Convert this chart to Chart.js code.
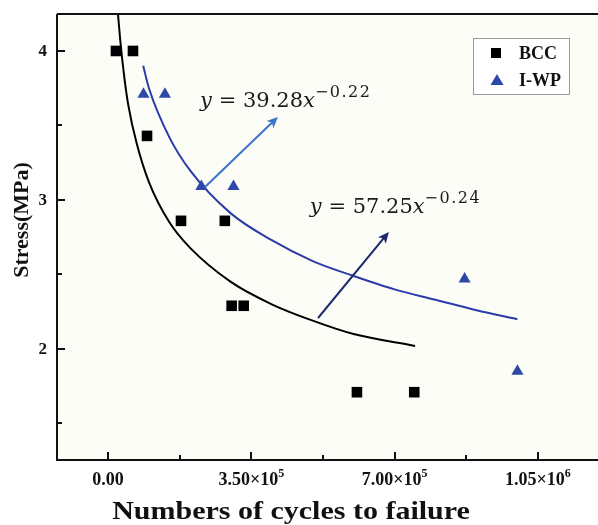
<!DOCTYPE html>
<html>
<head>
<meta charset="utf-8">
<script src="https://cdn.jsdelivr.net/npm/chart.js@4/dist/chart.umd.min.js"></script>
<style>
  html, body { margin: 0; padding: 0; background: #ffffff; overflow: hidden; }
  canvas { display: block; }
</style>
</head>
<body>
<canvas id="chart" width="598" height="525"></canvas>
<script>
// Fatigue test results: stress amplitude vs. cycles to failure
const bccCycles = [19500, 61000, 95300, 178300, 285300, 302000, 331500, 608000, 748000];
const bccStress = [4.00, 4.00, 3.43, 2.86, 2.86, 2.29, 2.29, 1.71, 1.71];
const iwpCycles = [86700, 139000, 228000, 306500, 871000, 1000000];
const iwpStress = [3.71, 3.71, 3.09, 3.09, 2.47, 1.85];

// Fitted S-N curves, sampled along each trend line
const bccFitCycles = [24000, 30000, 40000, 50000, 70000, 100000, 150000, 200000, 300000, 400000, 500000, 600000, 750000];
const bccFitStress = [4.26, 4.07, 3.82, 3.63, 3.38, 3.12, 2.85, 2.68, 2.45, 2.30, 2.19, 2.10, 2.02];
const iwpFitCycles = [86000, 100000, 150000, 200000, 300000, 400000, 500000, 600000, 700000, 800000, 900000, 1000000];
const iwpFitStress = [3.90, 3.75, 3.42, 3.20, 2.91, 2.73, 2.59, 2.49, 2.40, 2.33, 2.26, 2.20];

// Axis ticks
const xMajorTicks = [0, 350000, 700000, 1050000];
const xTickMantissa = ['0.00', '3.50', '7.00', '1.05'];
const xTickExponent = ['', '5', '5', '6'];
const xMinorTicks = [175000, 525000, 875000];
const yMajorTicks = [2, 3, 4];
const yTickLabels = ['2', '3', '4'];
const yMinorTicks = [1.5, 2.5, 3.5];

// Fit equations and their pointer arrows (data coordinates)
const eqCoefs = ['39.28', '57.25'];
const eqExps = ['\u22120.22', '\u22120.24'];
const eqAnchors = [[225000, 3.624], [493000, 2.913]];
const arrowStarts = [[237000, 3.087], [513000, 2.208]];
const arrowEnds = [[415000, 3.557], [686000, 2.785]];
const arrowColors = ['#3b74c9', '#1e2a6e'];

const SERIF = '"Liberation Serif", "Times New Roman", serif';
const MATH = '"DejaVu Serif", serif';

const toXY = (xs, ys) => xs.map((x, i) => ({ x: x, y: ys[i] }));

const framePlugin = {
  id: 'frame',
  beforeDraw(chart) {
    const { ctx, chartArea: a } = chart;
    ctx.save();
    ctx.fillStyle = '#fdfdf8';
    ctx.fillRect(a.left, a.top, a.right - a.left, a.bottom - a.top);
    ctx.restore();
  },
  afterDatasetsDraw(chart) {
    const { ctx, chartArea: a, scales } = chart;
    const xs = scales.x, ys = scales.y;
    ctx.save();

    // arrows
    arrowStarts.forEach((s, i) => {
      const x0 = xs.getPixelForValue(s[0]), y0 = ys.getPixelForValue(s[1]);
      const x1 = xs.getPixelForValue(arrowEnds[i][0]), y1 = ys.getPixelForValue(arrowEnds[i][1]);
      const ang = Math.atan2(y1 - y0, x1 - x0);
      const hl = 11, hw = 5;
      ctx.strokeStyle = arrowColors[i];
      ctx.fillStyle = arrowColors[i];
      ctx.lineWidth = 2;
      ctx.beginPath();
      ctx.moveTo(x0, y0);
      ctx.lineTo(x1 - Math.cos(ang) * hl * 0.7, y1 - Math.sin(ang) * hl * 0.7);
      ctx.stroke();
      ctx.beginPath();
      ctx.moveTo(x1, y1);
      ctx.lineTo(x1 - Math.cos(ang) * hl + Math.sin(ang) * hw, y1 - Math.sin(ang) * hl - Math.cos(ang) * hw);
      ctx.lineTo(x1 - Math.cos(ang) * hl * 0.75, y1 - Math.sin(ang) * hl * 0.75);
      ctx.lineTo(x1 - Math.cos(ang) * hl - Math.sin(ang) * hw, y1 - Math.sin(ang) * hl + Math.cos(ang) * hw);
      ctx.closePath();
      ctx.fill();
    });

    // equations
    eqCoefs.forEach((c, i) => {
      let x = xs.getPixelForValue(eqAnchors[i][0]);
      const y = ys.getPixelForValue(eqAnchors[i][1]);
      const parts = [
        { t: 'y', f: 'italic 21px ' + MATH, dy: 0, ls: 0 },
        { t: ' = ', f: '21px ' + MATH, dy: 0, ls: 0 },
        { t: c, f: '21px ' + MATH, dy: 0, ls: 0 },
        { t: 'x', f: 'italic 21px ' + MATH, dy: 0, ls: 0 },
        { t: eqExps[i], f: '16px ' + MATH, dy: -10, ls: 1.5 }
      ];
      ctx.fillStyle = '#1a1a1a';
      ctx.textAlign = 'left';
      ctx.textBaseline = 'alphabetic';
      parts.forEach(p => {
        ctx.font = p.f;
        ctx.letterSpacing = p.ls + 'px';
        ctx.fillText(p.t, x, y + p.dy);
        x += ctx.measureText(p.t).width;
      });
      ctx.letterSpacing = '0px';
    });

    // legend box
    ctx.fillStyle = '#ffffff';
    ctx.fillRect(473, 38, 96, 56);
    ctx.strokeStyle = '#9a9a9a';
    ctx.lineWidth = 1;
    ctx.strokeRect(473.5, 38.5, 96, 56);
    ctx.fillStyle = '#000000';
    ctx.fillRect(491, 48, 10, 10);
    ctx.fillStyle = '#2e48a8';
    ctx.beginPath();
    ctx.moveTo(497, 74);
    ctx.lineTo(503.5, 85);
    ctx.lineTo(490.5, 85);
    ctx.closePath();
    ctx.fill();
    ctx.fillStyle = '#111111';
    ctx.font = 'bold 18px ' + SERIF;
    ctx.textBaseline = 'middle';
    ctx.fillText('BCC', 519, 54);
    ctx.fillText('I-WP', 519, 81);

    // axis frame
    ctx.strokeStyle = '#111111';
    ctx.lineWidth = 2;
    ctx.beginPath();
    ctx.moveTo(a.left, a.top);
    ctx.lineTo(a.right, a.top);
    ctx.moveTo(a.left, a.top);
    ctx.lineTo(a.left, a.bottom);
    ctx.lineTo(a.right, a.bottom);
    ctx.stroke();

    // inward tick marks
    ctx.lineWidth = 2;
    ctx.beginPath();
    xMajorTicks.forEach(v => { const p = Math.round(xs.getPixelForValue(v)); ctx.moveTo(p, a.bottom); ctx.lineTo(p, a.bottom - 8); });
    xMinorTicks.forEach(v => { const p = Math.round(xs.getPixelForValue(v)); ctx.moveTo(p, a.bottom); ctx.lineTo(p, a.bottom - 5); });
    yMajorTicks.forEach(v => { const p = Math.round(ys.getPixelForValue(v)); ctx.moveTo(a.left, p); ctx.lineTo(a.left + 8, p); });
    yMinorTicks.forEach(v => { const p = Math.round(ys.getPixelForValue(v)); ctx.moveTo(a.left, p); ctx.lineTo(a.left + 5, p); });
    ctx.stroke();

    // tick labels
    ctx.fillStyle = '#111111';
    ctx.textBaseline = 'alphabetic';
    xMajorTicks.forEach((v, i) => {
      const p = xs.getPixelForValue(v);
      const base = xTickExponent[i] ? xTickMantissa[i] + '\u00d710' : xTickMantissa[i];
      ctx.font = 'bold 18px ' + SERIF;
      const w1 = ctx.measureText(base).width;
      ctx.font = 'bold 12px ' + SERIF;
      const w2 = xTickExponent[i] ? ctx.measureText(xTickExponent[i]).width : 0;
      const left = p - (w1 + w2) / 2;
      ctx.font = 'bold 18px ' + SERIF;
      ctx.textAlign = 'left';
      ctx.fillText(base, left, a.bottom + 25);
      if (xTickExponent[i]) {
        ctx.font = 'bold 12px ' + SERIF;
        ctx.fillText(xTickExponent[i], left + w1, a.bottom + 17);
      }
    });
    ctx.font = 'bold 17px ' + SERIF;
    ctx.textAlign = 'right';
    ctx.textBaseline = 'middle';
    yMajorTicks.forEach((v, i) => {
      ctx.fillText(yTickLabels[i], a.left - 10, ys.getPixelForValue(v) + 1);
    });

    // axis titles
    ctx.textAlign = 'center';
    ctx.textBaseline = 'middle';
    ctx.save();
    ctx.translate(291, 513);
    ctx.scale(1.2, 1);
    ctx.font = 'bold 25px ' + SERIF;
    ctx.fillText('Numbers of cycles to failure', 0, 0);
    ctx.restore();
    ctx.save();
    ctx.translate(22, 220);
    ctx.rotate(-Math.PI / 2);
    ctx.font = 'bold 22px ' + SERIF;
    ctx.fillText('Stress(MPa)', 0, 0);
    ctx.restore();

    ctx.restore();
  }
};

new Chart(document.getElementById('chart'), {
  type: 'scatter',
  data: {
    datasets: [
      {
        label: 'BCC',
        data: toXY(bccCycles, bccStress),
        pointStyle: 'rect',
        pointRadius: 7.5,
        pointHoverRadius: 7.5,
        backgroundColor: '#000000',
        borderWidth: 0,
        order: 0
      },
      {
        label: 'I-WP',
        data: toXY(iwpCycles, iwpStress),
        pointStyle: 'triangle',
        pointRadius: 7,
        pointHoverRadius: 7,
        backgroundColor: '#2e48a8',
        borderWidth: 0,
        order: 1
      },
      {
        label: 'BCC fit',
        type: 'line',
        data: toXY(bccFitCycles, bccFitStress),
        borderColor: '#000000',
        borderWidth: 2,
        pointRadius: 0,
        cubicInterpolationMode: 'monotone',
        fill: false,
        order: 3
      },
      {
        label: 'I-WP fit',
        type: 'line',
        data: toXY(iwpFitCycles, iwpFitStress),
        borderColor: '#2b3ba8',
        borderWidth: 2,
        pointRadius: 0,
        cubicInterpolationMode: 'monotone',
        fill: false,
        order: 2
      }
    ]
  },
  options: {
    responsive: false,
    animation: false,
    layout: { autoPadding: false, padding: { top: 14, right: 0, left: 0, bottom: 0 } },
    plugins: { legend: { display: false }, tooltip: { enabled: false } },
    scales: {
      x: {
        type: 'linear',
        min: -124560,
        max: 1196800,
        grid: { display: false },
        border: { display: false },
        ticks: { display: false },
        afterFit(scale) { scale.height = 65; scale.paddingLeft = 0; scale.paddingRight = 0; }
      },
      y: {
        type: 'linear',
        min: 1.255,
        max: 4.248,
        grid: { display: false },
        border: { display: false },
        ticks: { display: false },
        afterFit(scale) { scale.width = 57; scale.paddingTop = 0; scale.paddingBottom = 0; }
      }
    }
  },
  plugins: [framePlugin]
});
</script>
</body>
</html>
